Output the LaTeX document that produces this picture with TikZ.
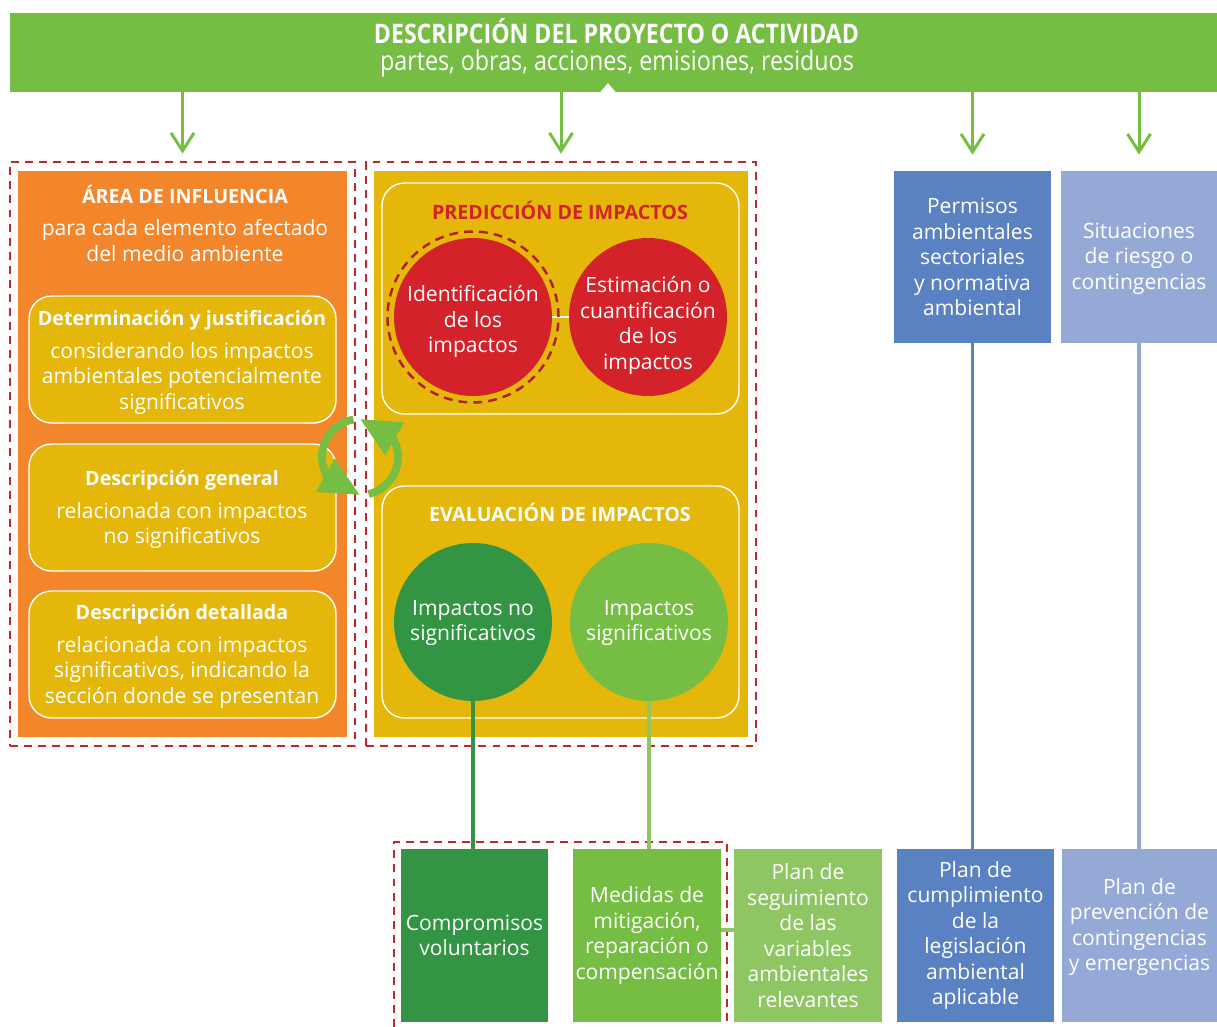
\documentclass[tikz,border=0pt]{standalone}
\usepackage{fontspec}
\setmainfont{Open Sans}
\newfontfamily\condfont[FakeStretch=0.86]{Open Sans}
\usepackage{xcolor}
\usetikzlibrary{positioning,arrows.meta,bending,shapes.geometric}

\definecolor{bannergreen}{HTML}{76BE43}
\definecolor{areaorange}{HTML}{F3852A}
\definecolor{predyellow}{HTML}{E5B70B}
\definecolor{impactred}{HTML}{D3222A}
\definecolor{framered}{HTML}{C1272D}
\definecolor{darkgreen}{HTML}{339443}
\definecolor{palegreen}{HTML}{8DC663}
\definecolor{permblue}{HTML}{5A81C1}
\definecolor{riskblue}{HTML}{94A9D6}

\newcommand{\bodysize}{\fontsize{12}{14.5}\selectfont}
\newcommand{\headsize}{\fontsize{11.2}{14}\selectfont}

\begin{document}
\begin{tikzpicture}[
    x=0.02cm, y=-0.02cm,
    banner/.style={rectangle, fill=bannergreen, minimum width=24.14cm, minimum height=1.58cm, inner sep=0pt},
    panel/.style={rectangle, inner sep=0pt, minimum height=11.32cm},
    frame/.style={rectangle, draw=framered, dash pattern=on 4.5pt off 3.5pt, line width=1.6pt, minimum height=11.68cm, inner sep=0pt},
    framepath/.style={draw=framered, dash pattern=on 4.5pt off 3.5pt, line width=1.6pt},
    subbox/.style={rectangle, rounded corners=0.45cm, draw=white, line width=0.8pt, fill=predyellow, minimum width=6.14cm, minimum height=2.54cm, inner sep=0pt},
    stepcircle/.style={circle, fill=impactred, minimum size=3.16cm, inner sep=0pt},
    sidebox/.style={rectangle, minimum height=3.44cm, inner sep=0pt, align=center, text=white, font=\bodysize},
    resultbox/.style={rectangle, minimum height=3.46cm, inner sep=0pt, align=center, text=white, font=\bodysize},
    headtext/.style={text=white, font=\headsize\bfseries, inner sep=0pt},
    bodytext/.style={text=white, font=\bodysize, align=center, inner sep=0pt},
    downarrow/.style={-{Straight Barb[length=0.36cm, width=0.46cm]}, line width=1.7pt, draw=bannergreen},
    cyclearrow/.style={-{Triangle[length=0.8cm, width=0.72cm, flex]}, line width=4.4pt, draw=bannergreen},
    link/.style={line width=2.2pt},
]
\useasboundingbox (0,0) rectangle (1217,1027);

% --- TOP: PROJECT DESCRIPTION ---
\node[banner] (banner) at (613.5, 52.5) {};
\fill[white] (608,83) -- (616,92.5) -- (600,92.5) -- cycle;
\node[text=white, inner sep=0pt, font=\condfont\fontsize{15.3}{17}\selectfont\bfseries] (title) at (616.5, 31) {DESCRIPCIÓN DEL PROYECTO O ACTIVIDAD};
\node[text=white, inner sep=0pt, font=\condfont\fontsize{15.4}{17}\selectfont] (subtitle) at (617, 63) {partes, obras, acciones, emisiones, residuos};

% --- LEFT: AREA OF INFLUENCE ---
\node[frame, minimum width=6.9cm] (leftframe) at (182.5, 454) {};
\node[panel, fill=areaorange, minimum width=6.58cm] (area) at (182.5, 454) {};
\node[headtext] (areatitle) at (185, 194) {ÁREA DE INFLUENCIA};
\node[bodytext] (areasub) at (185, 240.5) {para cada elemento afectado\\del medio ambiente};

\node[subbox] (determ) at (182.5, 359.5) {};
\node[headtext] (determtitle) at (182, 320) {Determinación y justificación};
\node[bodytext] (determtext) at (182, 378.5) {considerando los impactos\\ambientales potencialmente\\significativos};

\node[subbox] (general) at (182.5, 507.5) {};
\node[headtext] (generaltitle) at (182, 480) {Descripción general};
\node[bodytext] (generaltext) at (182, 525.5) {relacionada con impactos\\no significativos};

\node[subbox] (detail) at (182.5, 654.5) {};
\node[headtext] (detailtitle) at (182, 614) {Descripción detallada};
\node[bodytext] (detailtext) at (182, 672.5) {relacionada con impactos\\significativos, indicando la\\sección donde se presentan};

% --- CENTER: PREDICTION AND EVALUATION ---
\node[frame, minimum width=7.8cm] (rightframe) at (561, 454) {};
\node[panel, fill=predyellow, minimum width=7.48cm] (impacts) at (561, 454) {};

\node[subbox, minimum width=7.14cm, minimum height=4.62cm] (predbox) at (560.5, 298.5) {};
\node[headtext, text=impactred] (predtitle) at (560, 210) {PREDICCIÓN DE IMPACTOS};
\node[stepcircle] (ident) at (473, 317) {};
\node[stepcircle] (estim) at (648, 317) {};
\draw[white, line width=1.7pt] (ident.east) -- (estim.west);
\node[circle, draw=impactred!85!black, dash pattern=on 5pt off 3.5pt, line width=1.4pt, minimum size=3.42cm, inner sep=0pt] (identring) at (ident) {};
\node[bodytext] (identtext) at (473, 321.5) {Identificación\\de los\\impactos};
\node[bodytext] (estimtext) at (648, 325.5) {Estimación o\\cuantificación\\de los\\impactos};

\node[subbox, minimum width=7.14cm, minimum height=4.64cm] (evalbox) at (560.5, 602) {};
\node[headtext] (evaltitle) at (560, 512) {EVALUACIÓN DE IMPACTOS};
\node[stepcircle, fill=darkgreen] (nosig) at (473, 622) {};
\node[stepcircle, fill=bannergreen] (sig) at (649, 622) {};
\node[bodytext] (nosigtext) at (473, 623) {Impactos no\\significativos};
\node[bodytext] (sigtext) at (649, 623) {Impactos\\significativos};

% --- CYCLE BETWEEN AREA AND IMPACTS ---
\coordinate (cyc) at (360, 457);
\draw[cyclearrow] (cyc) ++(-100:38) arc (-100:-270:38);
\draw[cyclearrow] (cyc) ++(77:38) arc (77:-90:38);

% --- RIGHT: PERMITS AND RISKS ---
\node[sidebox, fill=permblue, minimum width=3.14cm] (permisos) at (972.5, 257) {Permisos\\ambientales\\sectoriales\\y normativa\\ambiental};
\node[sidebox, fill=riskblue, minimum width=3.12cm] (riesgo) at (1139, 257) {};
\node[bodytext] (riesgotext) at (1139, 258.5) {Situaciones\\de riesgo o\\contingencias};

% --- BOTTOM: RESULTING PLANS ---
\node[resultbox, fill=darkgreen, minimum width=2.94cm] (comp) at (474.5, 935.5) {Compromisos\\voluntarios};
\node[resultbox, fill=bannergreen, minimum width=2.96cm] (medidas) at (647, 935.5) {Medidas de\\mitigación,\\reparación o\\compensación};
\node[resultbox, fill=palegreen, minimum width=2.96cm] (seguim) at (808, 935.5) {Plan de\\seguimiento\\de las\\variables\\ambientales\\relevantes};
\node[resultbox, fill=permblue, minimum width=3.14cm] (cumpl) at (975.5, 935.5) {Plan de\\cumplimiento\\de la\\legislación\\ambiental\\aplicable};
\node[resultbox, fill=riskblue, minimum width=3.1cm] (prevenc) at (1139.5, 935.5) {};
\node[bodytext] (prevenctext) at (1139.5, 927) {Plan de\\prevención de\\contingencias\\y emergencias};
\draw[framepath] (394,1027) -- (394,842) -- (727,842) -- (727,1027);

% =======================================================================
% ARROWS
% =======================================================================
\draw[downarrow] (banner.south -| leftframe.north) -- ([yshift=0.14cm]leftframe.north);
\draw[downarrow] (banner.south -| rightframe.north) -- ([yshift=0.14cm]rightframe.north);
\draw[downarrow] (banner.south -| permisos.north) -- ([yshift=0.32cm]permisos.north);
\draw[downarrow] (banner.south -| riesgo.north) -- ([yshift=0.32cm]riesgo.north);

\draw[link, draw=darkgreen] (nosig.south) -- (nosig.south |- comp.north);
\draw[link, draw=palegreen] (sig.south) -- (sig.south |- medidas.north);
\draw[link, draw=permblue] (permisos.south) -- (permisos.south |- cumpl.north);
\draw[link, draw=riskblue] (riesgo.south) -- (riesgo.south |- prevenc.north);
\draw[link, draw=palegreen] ([yshift=0.11cm]medidas.east) -- ([yshift=0.11cm]seguim.west);

\end{tikzpicture}
\end{document}
